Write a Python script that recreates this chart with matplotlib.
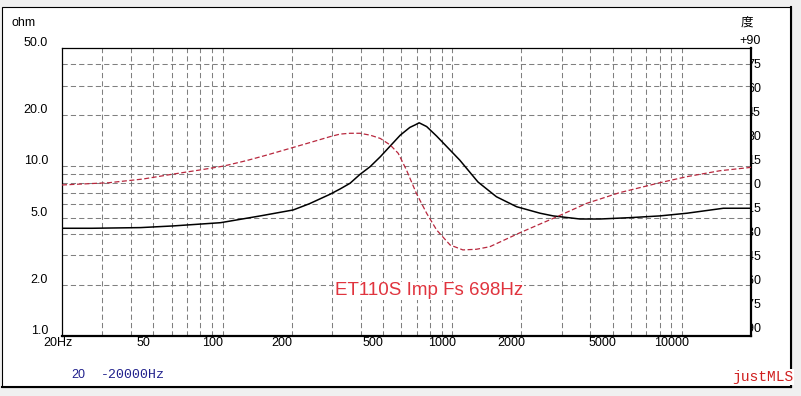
#!/usr/bin/env python3
"""ET110S impedance / phase sweep, redrawn in matplotlib (justMLS style)."""
import matplotlib
matplotlib.use("Agg")
import matplotlib.pyplot as plt
from matplotlib.patches import Rectangle
from matplotlib.lines import Line2D
from matplotlib.ticker import NullLocator
from matplotlib.transforms import offset_copy

plt.rcParams["font.family"] = ["Liberation Sans", "Noto Sans CJK JP", "DejaVu Sans"]

W, H = 801, 396

# impedance magnitude (ohm) vs frequency
imp_freq = [20, 27, 44, 61, 98, 146, 203, 239, 294, 325, 359, 397, 439, 486, 537, 594,
            654, 690, 718, 774, 856, 947, 1079, 1295, 1558, 1907, 2414, 2752, 3600, 4400,
            5940, 8020, 10520, 15160, 20000]
imp_ohm = [4.32, 4.32, 4.36, 4.46, 4.66, 5.11, 5.54, 6.03, 6.86, 7.37, 7.96, 8.99, 9.97,
           11.4, 13.2, 15.3, 17.0, 17.6, 18.1, 17.2, 15.1, 13.1, 10.9, 8.1, 6.63, 5.79,
           5.30, 5.11, 4.90, 4.90, 4.99, 5.11, 5.30, 5.67, 5.67]

# phase (deg) vs frequency
ph_freq = [20, 32, 45, 61, 80, 101, 127, 156, 197, 239, 294, 325, 359, 397, 440, 486,
           537, 582, 632, 698, 774, 856, 979, 1113, 1274, 1458, 1970, 2414, 2752, 3850,
           5360, 8020, 10520, 14660, 20000]
ph_deg = [4.4, 5.8, 8.1, 11.2, 13.8, 16.2, 19.6, 23.1, 27.3, 30.8, 34.6, 36.2, 36.7, 36.7,
          35.5, 33.5, 29.4, 24.2, 13.8, -0.8, -13.3, -23.8, -33.1, -36.2, -35.8, -34.2,
          -25.5, -20.0, -16.5, -7.1, -0.4, 5.8, 9.6, 13.3, 15.4]

grid_x = [30, 40, 50, 60, 70, 80, 90, 100, 200, 300, 400, 500, 600, 700, 800, 900,
          1000, 2000, 3000, 4000, 5000, 6000, 7000, 8000, 9000, 10000]
grid_y = [2, 3, 4, 5, 6, 7, 8, 9, 10, 20, 30, 40]
xlab_vals = [20, 50, 100, 200, 500, 1000, 2000, 5000, 10000]
xlab_txt = ["20Hz", "50", "100", "200", "500", "1000", "2000", "5000", "10000"]
ylab_vals = [50, 20, 10, 5, 2, 1]
ylab_txt = ["50.0", "20.0", "10.0", "5.0", "2.0", "1.0"]
ph_vals = [90, 75, 60, 45, 30, 15, 0, -15, -30, -45, -60, -75, -90]
ph_txt = ["+90", "75", "60", "45", "30", "15", "0", "-15", "-30", "-45", "-60", "-75", "-90"]


def fx(x):
    return x / W


def fy(y):
    return 1 - y / H


fig = plt.figure(figsize=(W / 100, H / 100), dpi=100, facecolor="#f0f0f0")

# white window panel
fig.patches.append(Rectangle((fx(2), fy(387)), (791 - 2) / W, (387 - 7) / H,
                             transform=fig.transFigure, facecolor="white",
                             edgecolor="black", lw=0.8, zorder=-10))
fig.add_artist(Line2D([fx(791), fx(791)], [fy(387), fy(7)], color="black", lw=1.5, zorder=-9))
fig.add_artist(Line2D([fx(2), fx(791)], [fy(387), fy(387)], color="black", lw=1.5, zorder=-9))

ax = fig.add_axes([fx(62), fy(336), (751 - 62) / W, (336 - 48) / H])
ax.set_xscale("log"); ax.set_yscale("log")
ax.set_xlim(20, 20000); ax.set_ylim(1, 50)
ax.set_xticks(grid_x); ax.set_yticks(grid_y)
ax.xaxis.set_minor_locator(NullLocator()); ax.yaxis.set_minor_locator(NullLocator())
ax.set_xticklabels([]); ax.set_yticklabels([])
ax.tick_params(length=0)
ax.grid(True, color="#808080", lw=0.75, ls=(0, (5, 3)))
ax.set_axisbelow(True)
for s in ["left", "top"]:
    ax.spines[s].set_linewidth(0.9)
for s in ["right", "bottom"]:
    ax.spines[s].set_linewidth(1.6)

ax.plot(imp_freq, imp_ohm, color="black", lw=1.1, zorder=4)

ax2 = ax.twinx()
ax2.set_ylim(-90, 90)
ax2.set_yticks([])
for s in ax2.spines.values():
    s.set_visible(False)
ax2.plot(ph_freq, ph_deg, color="#b8283e", lw=0.9, ls=(0, (4, 2)), zorder=3)

# tick labels
tx = offset_copy(ax.get_xaxis_transform(), fig=fig, x=-10, y=-7, units="dots")
for v, t in zip(xlab_vals, xlab_txt):
    if t == "20Hz":
        ax.text(v, 0, t, transform=offset_copy(ax.get_xaxis_transform(), fig=fig, x=-4, y=-7, units="dots"),
                ha="center", va="center", fontsize=9, clip_on=False)
    else:
        ax.text(v, 0, t, transform=tx, ha="center", va="center", fontsize=9, clip_on=False)

ty = offset_copy(ax.get_yaxis_transform(), fig=fig, x=-14, y=5, units="dots")
for v, t in zip(ylab_vals, ylab_txt):
    ax.text(0, v, t, transform=ty, ha="right", va="center", fontsize=9, clip_on=False)

# phase labels sit partly under the plot area, as in the original
tp = offset_copy(ax2.get_yaxis_transform(), fig=fig, x=10, y=7, units="dots")
for v, t in zip(ph_vals, ph_txt):
    fig.text(1, v, t, transform=tp, ha="right", va="center", fontsize=9, zorder=-1)

fig.text(fx(12), fy(23), "ohm", ha="left", va="center", fontsize=9)
fig.text(fx(747), fy(22), "度", ha="center", va="center", fontsize=9, family="Noto Sans CJK JP")

ax.text(0.533, 0.157, "ET110S Imp Fs 698Hz", transform=ax.transAxes, ha="center", va="center",
        fontsize=13.5, color="#e0343e", zorder=5,
        bbox=dict(facecolor="white", edgecolor="none", pad=0.5))

fig.text(fx(71), fy(375.5), "20", ha="left", va="center", fontsize=9, color="#20208c")
fig.text(fx(101), fy(375.5), "-20000Hz", ha="left", va="center", fontsize=9.5,
         color="#20208c", family="Liberation Mono")
fig.text(fx(793), fy(377), "justMLS", ha="right", va="center", fontsize=10.5,
         color="#d02020", family="Liberation Mono",
         bbox=dict(facecolor="white", edgecolor="none", pad=1))

fig.savefig("out.png", dpi=100, facecolor=fig.get_facecolor())
